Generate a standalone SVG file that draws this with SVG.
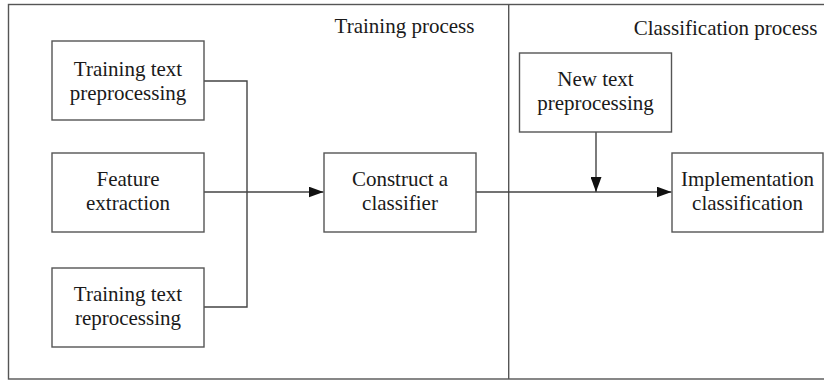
<svg xmlns="http://www.w3.org/2000/svg" width="824" height="380" viewBox="0 0 824 380">
<defs>
<style>
.box{fill:#fff;stroke:#555;stroke-width:1.4}
.frame{fill:none;stroke:#555;stroke-width:1.4}
.line{fill:none;stroke:#444;stroke-width:1.4}
text{font-family:"Liberation Serif","Times New Roman",serif;font-size:21px;fill:#1a1a1a;text-anchor:middle}
</style>
<marker id="arr" markerWidth="15" markerHeight="11" refX="15" refY="5.5" orient="auto" markerUnits="userSpaceOnUse">
<path d="M0,0 L15,5.5 L0,11 Z" fill="#111"/>
</marker>
</defs>
<rect width="824" height="380" fill="#fff"/>
<g id="frame">
<rect class="frame" x="8.5" y="4.5" width="830" height="374.5"/>
<line class="frame" x1="508.7" y1="4.5" x2="508.7" y2="379"/>
<text x="404.5" y="33">Training process</text>
<text x="725.5" y="35">Classification process</text>
</g>
<g id="connectors">
<polyline class="line" points="204,81 247,81 247,307 204,307"/>
<line class="line" x1="204" y1="192" x2="323.5" y2="192" marker-end="url(#arr)"/>
<line class="line" x1="476" y1="192" x2="671.5" y2="192" marker-end="url(#arr)"/>
<line class="line" x1="596" y1="132" x2="596" y2="192" marker-end="url(#arr)"/>
</g>
<g id="n-train-pre">
<rect class="box" x="52" y="41" width="152" height="79"/>
<text x="128" y="76">Training text</text>
<text x="128" y="100">preprocessing</text>
</g>
<g id="n-feature">
<rect class="box" x="52" y="153" width="152" height="79"/>
<text x="128" y="186">Feature</text>
<text x="128" y="210">extraction</text>
</g>
<g id="n-train-re">
<rect class="box" x="52" y="268" width="152" height="79"/>
<text x="128" y="301">Training text</text>
<text x="128" y="325">reprocessing</text>
</g>
<g id="n-construct">
<rect class="box" x="324" y="153" width="152" height="79"/>
<text x="400" y="186">Construct a</text>
<text x="400" y="210">classifier</text>
</g>
<g id="n-newtext">
<rect class="box" x="519.5" y="53" width="152" height="79"/>
<text x="595.5" y="86">New text</text>
<text x="595.5" y="110">preprocessing</text>
</g>
<g id="n-impl">
<rect class="box" x="672" y="153" width="151" height="79"/>
<text x="747.5" y="186">Implementation</text>
<text x="747.5" y="210">classification</text>
</g>
</svg>
